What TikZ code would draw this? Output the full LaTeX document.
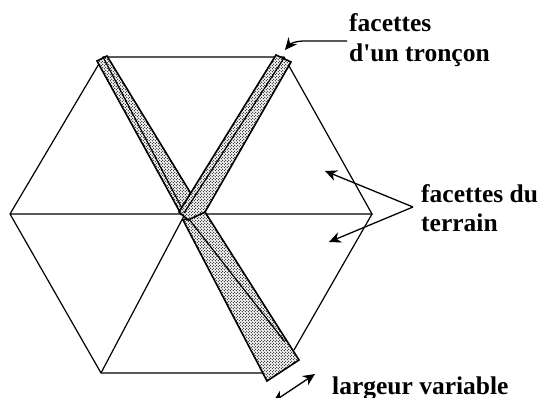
\documentclass[tikz,border=0pt]{standalone}
\usepackage{fontspec}
\setmainfont[Ligatures=TeXOff]{Liberation Serif}
\usetikzlibrary{patterns,arrows.meta}
\pgfdeclarepatternformonly{stipple}{\pgfqpoint{-0.5pt}{-0.5pt}}{\pgfqpoint{3.5pt}{3.5pt}}{\pgfqpoint{3pt}{3pt}}{
  \pgfpathcircle{\pgfqpoint{0.75pt}{0.75pt}}{0.7pt}
  \pgfpathcircle{\pgfqpoint{2.25pt}{2.25pt}}{0.7pt}
  \pgfusepath{fill}
}
\tikzset{
  edge/.style={draw=black,line width=1.2pt},
  strip/.style={draw=black,line width=1.6pt,fill=white,postaction={pattern=stipple,pattern color=black}},
  mid/.style={draw=black,line width=1.2pt},
  lab/.style={anchor=base west,inner sep=0pt,font=\fontsize{25.5}{28}\selectfont\bfseries},
  pointer/.style={draw=black,line width=1.3pt,-{Stealth[length=12pt,width=11pt]}},
  dpointer/.style={draw=black,line width=1.3pt,{Stealth[length=12pt,width=11pt]}-{Stealth[length=12pt,width=11pt]}}
}
\begin{document}
\begin{tikzpicture}[x=1pt,y=-1pt]
\path[clip] (0,0) rectangle (543,398);
\useasboundingbox (0,0) rectangle (543,398);
\coordinate (L) at (10,214);
\coordinate (R) at (372,214);
\coordinate (C) at (185,214);
\coordinate (TL) at (103,57);
\coordinate (TR) at (284,57);
\coordinate (BL) at (101,373);
\coordinate (BRe) at (294,350);
\coordinate (BE) at (265,373);
\draw[edge] (L) -- (TL) -- (TR) -- (R) -- (L);
\draw[edge] (L) -- (BL) -- (BE);
\draw[edge] (R) -- (BRe);
\draw[edge] (C) -- (BL);
% strip 1
\path[strip] (97,61) -- (107,56) -- (193,197) -- (181,214) -- cycle;
\draw[mid] (TL) -- (C);
% strip 3
\path[strip] (183,220) -- (205,212) -- (299,360) -- (267,381) -- cycle;
\draw[mid] (C) -- (285,342);
% strip 2
\path[strip] (276,55) -- (291,62) -- (205,212) -- (188,220) -- (179,212) -- cycle;
\draw[mid] (284,58) -- (184,213);
\node[lab] (t1) at (349,32) {facettes};
\node[lab] (t2) at (349,62) {d'un tronçon};
\node[lab] (t3) at (421,203) {facettes du};
\node[lab] (t4) at (421,231) {terrain};
\node[lab] (t5) at (332,394) {largeur variable};
\coordinate (a1s) at (347,41);
\coordinate (a1e) at (285,50);
\coordinate (j) at (413,207);
\coordinate (a2) at (325,171);
\coordinate (a3) at (329,242);
\coordinate (a4) at (315,374);
\coordinate (a5) at (273,402);
\draw[pointer] (a1s) -- (303,41) .. controls (296,41) and (290,44) .. (a1e);
\draw[pointer] (j) -- (a2);
\draw[pointer] (j) -- (a3);
\draw[dpointer] (a4) -- (a5);
\end{tikzpicture}
\end{document}
